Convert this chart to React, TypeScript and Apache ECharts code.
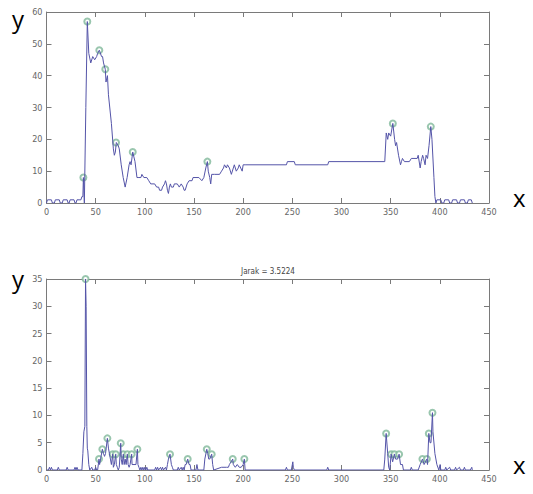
import React, { useEffect, useRef } from "react";
import * as echarts from "echarts";

// Top panel: profile line (x, y)
const topX = [0, 1, 5, 6, 8, 9, 13, 14, 16, 17, 21, 22, 23, 24, 28, 29, 30, 31, 34, 35, 36, 37, 37.5, 38.5, 40, 41.5, 43, 45, 47, 49, 51, 52, 53.7, 56, 57, 58, 59.8, 60.5, 62, 63, 66, 68, 69, 70, 71, 73, 74, 76, 78, 80, 82, 84, 85, 86, 87.7, 90, 92, 94, 96, 97, 99, 102, 104, 106, 110, 112, 114, 115, 117, 118, 120, 121, 122, 123, 124, 125, 126, 127, 129, 130, 133, 135, 137, 139, 140, 141, 143, 145, 148, 149, 155, 158, 160, 162, 163.6, 164.5, 166, 167, 168, 171, 176, 178, 180, 181, 183, 184, 186, 188, 190, 191, 193, 195, 196, 199, 200, 202, 244, 245, 252, 253, 286, 287, 344, 345.5, 347, 348, 350, 352.2, 354, 355, 356, 358, 360, 361, 362, 364, 369, 371, 377, 378, 380, 381, 382.5, 383.5, 385, 386, 387.5, 389, 390.8, 392, 394, 395, 396, 397, 401, 402, 404, 405, 409, 410, 412, 413, 417, 418, 420, 421, 425, 426, 428, 429, 432, 433];
const topY = [0, 1, 1, 0, 0, 1, 1, 0, 0, 1, 1, 0, 0, 1, 1, 0, 0, 1, 1, 1, 2, 2, 8, 0, 30, 57, 47, 44, 46, 45, 46, 47, 48, 46, 46, 44, 42, 38, 40, 34, 25, 17, 15, 16, 19, 18, 17, 12, 8, 5, 8, 12, 13, 12, 16, 13, 8, 8, 8, 9, 8, 8, 7, 6, 6, 5, 5, 4, 4, 5, 6, 7, 6, 4, 3, 5, 6, 5, 5, 6, 6, 5, 6, 5, 4, 4, 6, 7, 7, 8, 8, 7, 8, 11, 13, 10, 8, 6, 9, 9, 9, 10, 11, 12, 11, 12, 11, 9, 11, 12, 10, 11, 12, 10, 12, 12, 12, 13, 13, 12, 12, 13, 13, 22, 20, 22, 21, 25, 20, 18, 19, 15, 12, 13, 14, 13, 13, 14, 14, 15, 11, 13, 15, 14, 12, 15, 14, 18, 24, 20, 8, 2, 0, 1, 1, 0, 0, 1, 1, 0, 0, 1, 1, 0, 0, 1, 1, 0, 0, 1, 1, 0];
const topPeakX = [37.5, 41.5, 53.7, 59.8, 70.7, 87.7, 163.6, 352.2, 390.8];
const topPeakY = [8, 57, 48, 42, 19, 16, 13, 25, 24];

// Bottom panel: difference line (x, y)
const botX = [0, 2, 3, 4, 5, 6, 11, 12, 13, 20, 21, 22, 28, 29, 30, 31, 32, 36, 37, 38, 39, 39.7, 40.3, 41, 41.5, 42, 43, 44, 46, 47, 49, 50, 51, 52, 53.4, 54, 55, 56.8, 58, 59, 60, 61.9, 63, 64, 65, 66, 67.3, 68, 69, 70.4, 71, 72, 73, 74, 75.5, 76, 77, 78.1, 79, 80, 81, 82.2, 83, 84, 85, 86.6, 87, 91, 92.4, 93, 94, 95, 96, 97, 98, 99, 100, 101, 102, 103, 110, 111, 112, 113, 114, 116, 117, 118, 119, 121, 122, 123, 124, 125.6, 127, 128, 129, 133, 134, 135, 137, 138, 139, 140, 141, 142, 143.6, 145, 146, 147, 152, 153, 154, 160, 161, 163, 164, 165, 166, 168, 169, 170, 178, 183, 185, 186, 189.4, 190, 192, 194, 196, 198, 200, 201.2, 202, 243, 244, 245, 249, 250.5, 251, 252, 285, 286, 287, 343, 344, 345.4, 347, 348, 349, 350.5, 352, 353.8, 355, 357, 358.6, 360, 362, 363, 370, 371, 372, 378, 380, 382.3, 384, 386.8, 387.5, 388.8, 390, 391, 392.5, 393, 395, 397, 399, 400.3, 401, 405, 406, 407, 410, 411, 415, 416, 417, 420, 421, 424, 425, 426, 431, 432.5, 433];
const botY = [0, 0, 0.5, 0, 0.5, 0, 0, 0.5, 0, 0, 0.5, 0, 0, 0.5, 0, 0.5, 0, 0, 3, 7, 8, 35, 30, 8, 4, 3.5, 1, 0, 0.5, 0, 0, 0.5, 0, 0, 2, 1, 2, 3.8, 3, 2.5, 3, 5.8, 4, 3, 2, 1, 2.9, 0.5, 1, 2.9, 1, 0.5, 0, 0.5, 4.9, 2, 1, 2.9, 1, 2, 1, 2.9, 1, 0.5, 1, 2.9, 1, 1, 3.8, 1, 0.5, 0, 0.5, 0, 0.5, 0, 0.5, 0, 0.5, 0, 0, 0.5, 0, 0.5, 0, 0.5, 0, 0.5, 0, 0.5, 0, 1, 2, 2.9, 1, 0.5, 0, 0, 0.5, 0, 0.5, 0, 0.5, 0, 1, 1, 2, 1, 1, 0, 0, 1, 0, 0, 2, 3.8, 3, 2, 2, 2.9, 1, 0, 0.5, 0.5, 0.5, 1, 2, 1, 0.5, 1, 0.5, 0.5, 1, 2, 0, 0, 0.5, 0, 0, 1.5, 0.5, 0, 0, 0.5, 0, 0, 2, 6.7, 3, 0.5, 0, 2.9, 1.5, 2.9, 2, 2, 2.9, 1, 1, 0, 0, 0.5, 0, 0, 1, 2, 1, 2, 1, 6.7, 5, 5, 10.5, 7, 3, 1, 0, 1, 0, 0, 0.5, 0, 0.5, 0, 0, 0.5, 0, 0.5, 0, 0, 0.5, 0, 0, 0.5, 0];
const botPeakX = [39.7, 53.4, 56.8, 61.9, 67.3, 70.4, 75.5, 78.1, 82.2, 86.6, 92.4, 125.6, 143.6, 163, 168, 189.4, 201.2, 345.4, 350.5, 353.8, 358.6, 382.3, 386.8, 388.8, 392.5];
const botPeakY = [35, 2, 3.8, 5.8, 2.9, 2.9, 4.9, 2.9, 2.9, 2.9, 3.8, 2.9, 2, 3.8, 2.9, 2, 2, 6.7, 2.9, 2.9, 2.9, 2, 2, 6.7, 10.5];

const xTicks = { min: 0, max: 450, interval: 50 };
const topYAxis = { min: 0, max: 60, interval: 10 };
const botYAxis = { min: 0, max: 35, interval: 5 };
const titleText = "Jarak = 3.5224";

const zip = (xs: number[], ys: number[]) => xs.map((x, i) => [x, ys[i]]);

export default function App() {
  const ref = useRef<HTMLDivElement>(null);
  useEffect(() => {
    if (!ref.current) return;
    const chart = echarts.init(ref.current, null, { renderer: "svg" });
    const axisColor = "#7a7a7a";
    const labelFont = {
      color: "#666",
      fontSize: 9,
      fontFamily: "'DejaVu Sans Condensed', 'Liberation Sans Narrow', sans-serif",
    };
    const grids = [
      { left: 46.5, top: 12, width: 442.5, height: 191 },
      { left: 46.5, top: 279, width: 442.5, height: 191 },
    ];
    const mkX = (gi: number, pos: "bottom" | "top") => ({
      type: "value",
      gridIndex: gi,
      position: pos,
      ...xTicks,
      axisLine: { show: true, onZero: false, lineStyle: { color: axisColor, width: 1 } },
      axisTick: { show: true, inside: true, length: 5, lineStyle: { color: axisColor } },
      axisLabel: { show: pos === "bottom", margin: 4, ...labelFont },
      splitLine: { show: false },
    });
    const mkY = (gi: number, pos: "left" | "right", r: any) => ({
      type: "value",
      gridIndex: gi,
      position: pos,
      ...r,
      axisLine: { show: true, onZero: false, lineStyle: { color: axisColor, width: 1 } },
      axisTick: { show: true, inside: true, length: 5, lineStyle: { color: axisColor } },
      axisLabel: { show: pos === "left", margin: 4, ...labelFont },
      splitLine: { show: false },
    });
    const lineColor = "#5454a8";
    const peakColor = "#7fb89a";
    chart.setOption({
      animation: false,
      backgroundColor: "#fff",
      title: {
        text: titleText,
        left: 263,
        top: 262,
        textAlign: "center",
        textStyle: { fontSize: 8, fontWeight: "normal", color: "#444", fontFamily: "'DejaVu Sans Condensed', sans-serif" },
      },
      grid: grids,
      xAxis: [mkX(0, "bottom"), mkX(0, "top"), mkX(1, "bottom"), mkX(1, "top")],
      yAxis: [mkY(0, "left", topYAxis), mkY(0, "right", topYAxis), mkY(1, "left", botYAxis), mkY(1, "right", botYAxis)],
      series: [
        {
          type: "line",
          xAxisIndex: 0,
          yAxisIndex: 0,
          data: zip(topX, topY),
          showSymbol: false,
          lineStyle: { color: lineColor, width: 1 },
        },
        {
          type: "scatter",
          xAxisIndex: 0,
          yAxisIndex: 0,
          data: zip(topPeakX, topPeakY),
          symbol: "emptyCircle",
          symbolSize: 6,
          itemStyle: { color: peakColor, borderColor: peakColor, borderWidth: 1 },
        },
        {
          type: "line",
          xAxisIndex: 2,
          yAxisIndex: 2,
          data: zip(botX, botY),
          showSymbol: false,
          lineStyle: { color: lineColor, width: 1 },
        },
        {
          type: "scatter",
          xAxisIndex: 2,
          yAxisIndex: 2,
          data: zip(botPeakX, botPeakY),
          symbol: "emptyCircle",
          symbolSize: 6,
          itemStyle: { color: peakColor, borderColor: peakColor, borderWidth: 1 },
        },
      ],
      graphic: [
        { type: "text", left: 12, top: 6, style: { text: "y", fontSize: 24, fill: "#000", fontFamily: "'Open Sans', sans-serif" } },
        { type: "text", left: 513, top: 185, style: { text: "x", fontSize: 24, fill: "#000", fontFamily: "'Open Sans', sans-serif" } },
        { type: "text", left: 12, top: 266, style: { text: "y", fontSize: 24, fill: "#000", fontFamily: "'Open Sans', sans-serif" } },
        { type: "text", left: 513, top: 452, style: { text: "x", fontSize: 24, fill: "#000", fontFamily: "'Open Sans', sans-serif" } },
      ],
    });
    return () => chart.dispose();
  }, []);
  return <div ref={ref} style={{ position: "absolute", left: 0, top: 0, width: 533, height: 494 }} />;
}
